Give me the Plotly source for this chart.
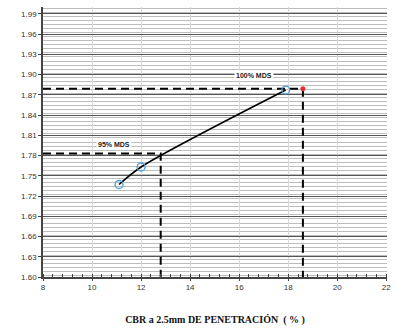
import plotly.graph_objects as go

# Data
cbr_values = [11.1, 12.0, 17.9]
density_values = [1.737, 1.763, 1.877]

mds95_density = 1.783
mds95_cbr = 12.8
mds100_density = 1.879
mds100_cbr = 18.6

x_tick_vals = [8, 10, 12, 14, 16, 18, 20, 22]
y_tick_vals = [1.60, 1.63, 1.66, 1.69, 1.72, 1.75, 1.78, 1.81, 1.84, 1.87, 1.90, 1.93, 1.96, 1.99]
x_min, x_max = 8, 22
y_min, y_max = 1.60, 2.00

fig = go.Figure()

dash_style = dict(color="black", width=2, dash="8px,5px")

# 95% MDS guide lines
fig.add_trace(go.Scatter(x=[x_min, mds95_cbr, mds95_cbr], y=[mds95_density, mds95_density, y_min],
                         mode="lines", line=dash_style, showlegend=False, hoverinfo="skip"))
# 100% MDS guide lines
fig.add_trace(go.Scatter(x=[x_min, mds100_cbr, mds100_cbr], y=[mds100_density, mds100_density, y_min],
                         mode="lines", line=dash_style, showlegend=False, hoverinfo="skip"))

# Curve through data
fig.add_trace(go.Scatter(x=cbr_values, y=density_values, mode="lines",
                         line=dict(color="black", width=1.6, shape="spline", smoothing=0.8),
                         showlegend=False))
# Data markers
fig.add_trace(go.Scatter(x=cbr_values, y=density_values, mode="markers",
                         marker=dict(symbol="circle-open", size=8, color="#4a9fd8", line=dict(width=1.3)),
                         showlegend=False))
# 100% MDS point
fig.add_trace(go.Scatter(x=[mds100_cbr], y=[mds100_density], mode="markers",
                         marker=dict(symbol="circle", size=5, color="#e03030"),
                         showlegend=False))

fig.add_annotation(x=10.9, y=1.797, text="<b>95% MDS</b>", showarrow=False,
                   font=dict(family="Liberation Sans", size=7, color="#222"), bgcolor="white")
fig.add_annotation(x=16.6, y=1.899, text="<b>100% MDS</b>", showarrow=False,
                   font=dict(family="Liberation Sans", size=7, color="#222"), bgcolor="white")

fig.update_xaxes(range=[x_min, x_max + 0.03], tickvals=x_tick_vals, ticktext=[str(v) for v in x_tick_vals],
                 showgrid=True, gridcolor="#d8d8d8", gridwidth=1,
                 showline=True, linecolor="#444", linewidth=1.5, mirror=False,
                 ticks="outside", ticklen=2, tickcolor="#444",
                 minor=dict(dtick=0.4, ticks="inside", ticklen=3, tickcolor="#444", showgrid=False),
                 tickfont=dict(family="Liberation Sans", size=8, color="#333"),
                 ticklabeloverflow="allow",
                 zeroline=False,
                 title=dict(text="<b>CBR a 2.5mm DE PENETRACIÓN  ( % )</b>",
                            font=dict(family="Liberation Serif", size=10, color="#111"), standoff=25))
fig.update_yaxes(range=[y_min, y_max], tickvals=y_tick_vals, ticktext=[f"{v:.2f}" for v in y_tick_vals],
                 showgrid=True, gridcolor="#555", gridwidth=1.2,
                 showline=True, linecolor="#444", linewidth=1.5,
                 ticks="outside", ticklen=3, tickcolor="#444",
                 minor=dict(dtick=0.006, showgrid=True, gridcolor="#bdbdbd", gridwidth=0.8),
                 tickfont=dict(family="Liberation Sans", size=8, color="#333"),
                 zeroline=False)

fig.update_layout(width=398, height=331, margin=dict(l=43, r=8, t=7, b=50),
                  plot_bgcolor="white", paper_bgcolor="white")

fig.write_html("out.html", config={"displayModeBar": False},
               post_script="document.body.style.margin='0';document.body.style.overflow='hidden';")
